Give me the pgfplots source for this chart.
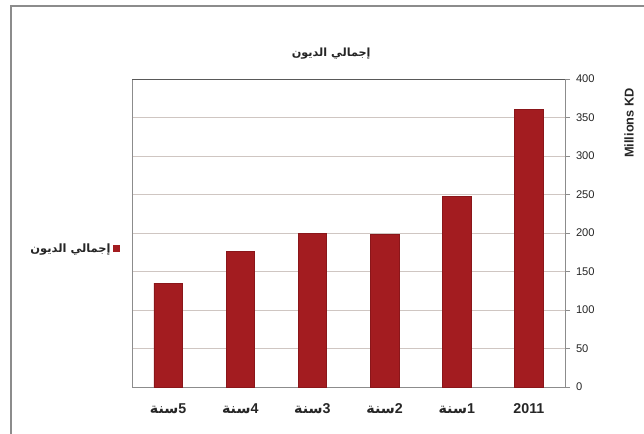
\documentclass[border=0pt]{standalone}
\usepackage{pgfplots}
\pgfplotsset{compat=1.18}
\usepackage{fontspec}
\setmainfont{Liberation Sans}
\newfontfamily\arabicfont[Script=Arabic]{DejaVu Sans}
\TeXXeTstate=1
\definecolor{barred}{HTML}{A31C20}
\definecolor{bardark}{HTML}{8A161A}
\definecolor{gridc}{HTML}{CFC6C2}
\definecolor{framec}{HTML}{8C8C8C}
\definecolor{txt}{HTML}{262626}
\begin{document}
\begin{tikzpicture}
\useasboundingbox (0,0) rectangle (644bp,-434bp);
\fill[white] (0,0) rectangle (644bp,-434bp);
\draw[framec, line width=1.6bp] (11bp,-434bp) -- (11bp,-6bp) -- (644bp,-6bp);
\begin{axis}[
  at={(132bp,-387bp)}, anchor=south west,
  scale only axis, width=433bp, height=308bp,
  xmin=-0.5, xmax=5.5, ymin=0, ymax=400,
  ybar, bar width=28.5bp,
  ytick={0,50,...,400},
  xtick={0,...,5},
  xticklabels={%
    {\arabicfont\bfseries\beginR سنة\endR}5,
    {\arabicfont\bfseries\beginR سنة\endR}4,
    {\arabicfont\bfseries\beginR سنة\endR}3,
    {\arabicfont\bfseries\beginR سنة\endR}2,
    {\arabicfont\bfseries\beginR سنة\endR}1,
    2011},
  x tick style={draw=none},
  extra x ticks={0.5,1.5,2.5,3.5,4.5},
  extra x tick labels={},
  extra x tick style={grid=none, major tick length=3bp, tick align=outside, tick style={draw=gridc, line width=0.6bp}},
  xtick pos=bottom,
  ytick pos=right, yticklabel pos=right,
  tick align=outside, major tick length=5bp,
  y tick style={draw=framec, line width=0.7bp},
  ymajorgrids, grid style={draw=gridc, line width=0.9bp},
  axis line style={draw=framec, line width=0.9bp},
  xticklabel style={font=\fontsize{14.3}{16}\selectfont\bfseries, text=txt, yshift=-8bp},
  yticklabel style={font=\fontsize{11.2}{13}\selectfont, text=txt, anchor=west, xshift=2.5bp},
  /pgf/number format/assume math mode=true,
  ylabel={Millions KD},
  ylabel style={at={(axis description cs:1.148,0.857)}, anchor=center, rotate=0, font=\fontsize{12.8}{14}\selectfont\bfseries, text=txt},
  title={\arabicfont\bfseries\beginR إجمالي الديون\endR},
  title style={at={(axis description cs:0.46,1.062)}, anchor=center, font=\fontsize{11.3}{13}\selectfont, text=txt},
  legend style={at={(axis description cs:-0.028,0.45)}, anchor=east, draw=none, fill=none, inner sep=0pt,
    font=\fontsize{11.5}{13}\selectfont, text=txt, legend cell align=right},
  legend plot pos=right,
  legend image code/.code={\fill[barred] (0bp,-3.2bp) rectangle (6.5bp,3.2bp);},
]
\addplot[fill=barred, draw=bardark, line width=0.6bp] coordinates {(0,135) (1,176) (2,200) (3,198) (4,248) (5,361)};
\addlegendentry{\arabicfont\bfseries\beginR إجمالي الديون\endR}
\draw[black!65, line width=1.6bp] (rel axis cs:0,1) -- (rel axis cs:1,1);
\end{axis}
\end{tikzpicture}
\end{document}
